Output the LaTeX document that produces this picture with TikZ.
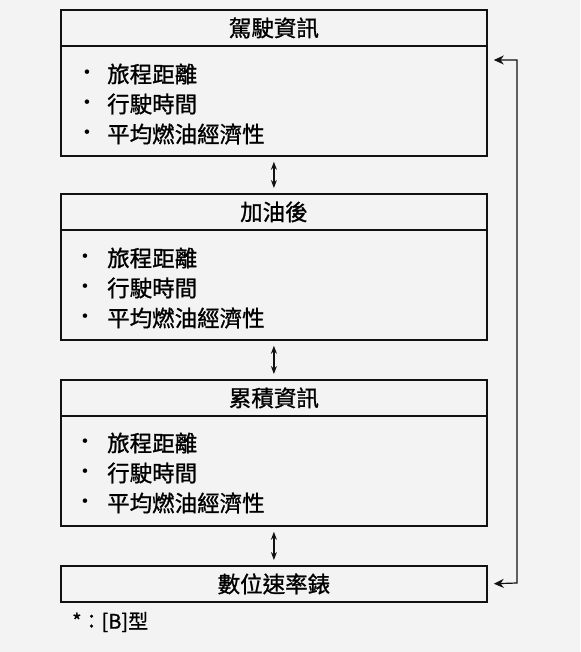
\documentclass[tikz,border=0pt]{standalone}
\usepackage{fontspec}
\newfontfamily\cjk[FakeBold=1]{Noto Sans CJK TC}
\usetikzlibrary{arrows.meta}
\definecolor{bg}{HTML}{F3F3F3}
\definecolor{ink}{HTML}{111111}
\tikzset{
  x=1pt, y=-1pt,
  hdr/.style={draw=ink, line width=1.8pt, minimum width=426pt, anchor=north west, inner sep=0pt, font=\cjk\fontsize{22.5}{26}\selectfont},
  bodybox/.style={draw=ink, line width=1.8pt, minimum width=426pt, anchor=north west, inner sep=0pt},
  item/.style={anchor=west, inner sep=0pt, font=\cjk\fontsize{22.5}{26}\selectfont},
  bul/.style={inner sep=0pt, font=\fontsize{20}{22}\selectfont},
  link/.style={draw=ink, line width=1.2pt, {Stealth[length=8pt,width=6pt]}-{Stealth[length=8pt,width=6pt]}, shorten <=5pt, shorten >=5pt},
  side/.style={draw=ink, line width=1.2pt, {Stealth[length=10pt,width=9pt]}-{Stealth[length=10pt,width=9pt]}, shorten <=6pt, shorten >=6pt}
}
\begin{document}
\begin{tikzpicture}
\fill[bg] (0,0) rectangle (580,652);
\useasboundingbox (0,0) rectangle (580,652);

% box 1
\node[hdr, minimum height=36pt] (h1) at (60,9) {駕駛資訊};
\node[bodybox, minimum height=110pt] (b1) at (60,45) {};
\node[bul] (p11) at (87,74) {\textbullet}; \node[item] (t11) at (107,74) {旅程距離};
\node[bul] (p12) at (87,104) {\textbullet}; \node[item] (t12) at (107,104) {行駛時間};
\node[bul] (p13) at (87,134) {\textbullet}; \node[item] (t13) at (107,134) {平均燃油經濟性};

% box 2
\node[hdr, minimum height=36pt] (h2) at (60,193) {加油後};
\node[bodybox, minimum height=110pt] (b2) at (60,229) {};
\node[bul] (p21) at (85,258) {\textbullet}; \node[item] (t21) at (107,258) {旅程距離};
\node[bul] (p22) at (85,288) {\textbullet}; \node[item] (t22) at (107,288) {行駛時間};
\node[bul] (p23) at (85,318) {\textbullet}; \node[item] (t23) at (107,318) {平均燃油經濟性};

% box 3
\node[hdr, minimum height=36pt] (h3) at (60,379) {累積資訊};
\node[bodybox, minimum height=110pt] (b3) at (60,415) {};
\node[bul] (p31) at (85,443) {\textbullet}; \node[item] (t31) at (107,443) {旅程距離};
\node[bul] (p32) at (85,473) {\textbullet}; \node[item] (t32) at (107,473) {行駛時間};
\node[bul] (p33) at (85,503) {\textbullet}; \node[item] (t33) at (107,503) {平均燃油經濟性};

% box 4
\node[hdr, minimum height=36pt] (h4) at (60,565) {數位速率錶};

% footnote
\node[anchor=west, inner sep=0pt, font=\cjk\fontsize{20}{23}\selectfont] (fn) at (72,622) {*：[B]型};

% connectors
\draw[link] (b1.south) -- (h2.north);
\draw[link] (b2.south) -- (h3.north);
\draw[link] (b3.south) -- (h4.north);

\coordinate (r1) at (517,60);
\coordinate (r2) at (517,583);
\draw[side] (b1.east |- r1) -- (r1) -- (r2) -- (h4.east);
\end{tikzpicture}
\end{document}
